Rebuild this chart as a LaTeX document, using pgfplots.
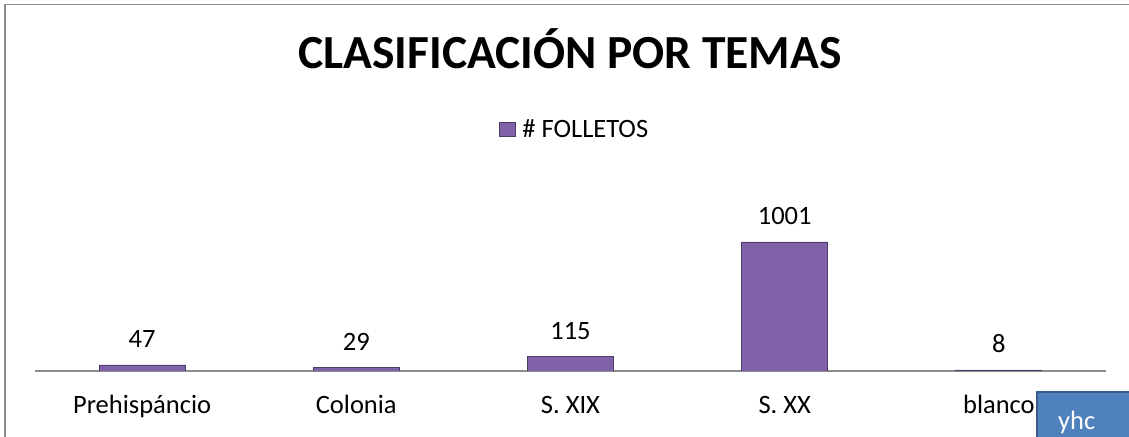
\documentclass[border=0pt]{standalone}
\usepackage{pgfplots}
\pgfplotsset{compat=1.18}
\usepackage{fontspec}
\setmainfont{Carlito}
\definecolor{barfill}{HTML}{7F62A8}
\definecolor{bardraw}{HTML}{4E3B68}
\definecolor{framegray}{HTML}{8C8C8C}
\definecolor{boxblue}{HTML}{4F81BD}
\definecolor{boxedge}{HTML}{385D8A}
\newcommand{\bodyfont}{\fontsize{26.5bp}{31bp}\selectfont}
\begin{document}
\begin{tikzpicture}[x=1bp,y=1bp]
\useasboundingbox (0,0) rectangle (1129,437);
\draw[color=framegray, line width=1.8bp] (5,0) -- (5,432.5) -- (1129,432.5);
\begin{axis}[
  at={(35bp,66bp)}, anchor=south west,
  scale only axis, width=1071bp, height=200bp,
  xmin=-0.5, xmax=4.5, ymin=0, ymax=1552,
  axis x line*=bottom, axis y line=none,
  x axis line style={-, color=framegray, line width=1.5bp},
  xtick={0,1,2,3,4},
  xticklabels={Prehispáncio, Colonia, S. XIX, S. XX, blanco},
  xticklabel style={font=\bodyfont, anchor=base, inner sep=0pt, yshift=-43bp},
  major tick length=0pt, ytick=\empty,
  ybar, bar width=86bp,
  /pgf/number format/assume math mode=true,
  /pgf/number format/1000 sep={},
  nodes near coords,
  nodes near coords style={font=\bodyfont, anchor=base, inner sep=0pt, yshift=17bp, text=black},
  legend style={at={(axis description cs:0.5037,1.21)}, anchor=center, draw=none, fill=none, font=\bodyfont},
  legend image code/.code={\draw[#1] (0bp,-7bp) rectangle (16bp,7bp); \path (21bp,0bp);},
]
\addplot[fill=barfill, draw=bardraw, line width=0.8bp] coordinates {(0,47) (1,29) (2,115) (3,1001) (4,8)};
\addlegendentry{\# FOLLETOS}
\end{axis}
\node[font=\fontsize{47.5bp}{52bp}\selectfont\bfseries, anchor=base, inner sep=0pt] at (570,368) {CLASIFICACIÓN POR TEMAS};
\draw[fill=boxblue, draw=boxedge, line width=2bp] (1037,-5) rectangle (1140,45);
\node[font=\bodyfont, text=white, anchor=base west, inner sep=0pt] at (1058,7) {yhc};
\end{tikzpicture}
\end{document}
